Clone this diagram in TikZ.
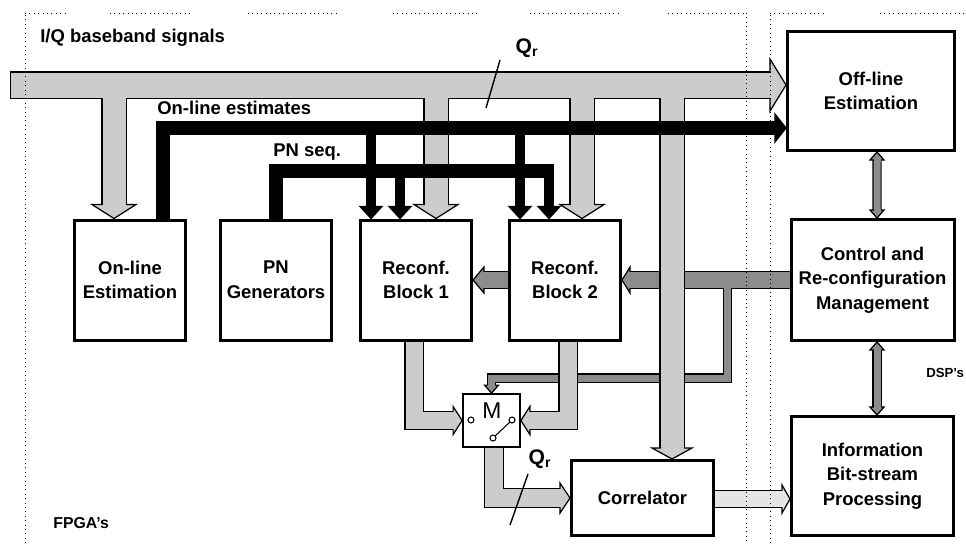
\documentclass[tikz,border=0pt]{standalone}
\usepackage{fontspec}
\setmainfont{Liberation Sans}
\usetikzlibrary{calc}
\definecolor{BusGray}{gray}{0.80}
\definecolor{OutGray}{gray}{0.90}
\definecolor{CtrlGray}{gray}{0.55}
\tikzset{
  blockbox/.style={draw, line width=1.7pt, fill=white, align=center,
    font=\bfseries\fontsize{10.5}{14}\selectfont, inner sep=0pt},
  fpgablock/.style={blockbox, minimum width=22.2mm, minimum height=24mm},
  lbl/.style={font=\bfseries\fontsize{10.5}{12}\selectfont, inner sep=0pt, anchor=west},
  blackbus/.style={draw=black, line width=#1*0.2mm, line join=miter},
  regline/.style={dotted, line width=0.5pt},
  pics/bandhead/.style n args={4}{code={
    \filldraw[fill=#4, draw=black, line width=0.7pt, line join=miter]
      (0,0) -- (-#1,#2) -- (-#1,-#2) -- cycle;
    \fill[#4] ({-#1-1.5},{-#3}) rectangle ({-#1+1.3},{#3});
  }},
}
\begin{document}
\begin{tikzpicture}[x=0.2mm,y=-0.2mm,line join=miter]
  \fill[white] (0,0) rectangle (966,543);
  \useasboundingbox (0,0) rectangle (966,543);

  % blocks
  \node[fpgablock] (onl) at (130,280) {On-line\\Estimation};
  \node[fpgablock] (pngen) at (276,280) {PN\\Generators};
  \node[fpgablock] (blk1) at (416,280) {Reconf.\\Block 1};
  \node[fpgablock] (blk2) at (565,280) {Reconf.\\Block 2};
  \node[blockbox, minimum width=33.4mm, minimum height=23.8mm] (offl) at (871,91) {Off-line\\Estimation};
  \node[blockbox, minimum width=32.6mm, minimum height=24.2mm] (ctrl) at (872.5,280) {Control and\\Re-configuration\\Management};
  \node[blockbox, minimum width=32.4mm, minimum height=23.8mm] (info) at (872.5,476) {Information\\Bit-stream\\Processing};
  \node[blockbox, minimum width=28.4mm, minimum height=15mm] (corr) at (642.5,498) {Correlator};
  \node[draw, line width=1pt, fill=white, minimum width=11.4mm, minimum height=10.6mm] (mux) at (491.5,420.5) {};
  \node[font=\fontsize{13}{13}\selectfont, inner sep=0pt] (mlet) at (492,411) {M};
  \draw[line width=0.6pt] (493,438) -- (512,420);
  \foreach \p in {(471,420),(512,420),(493,438)}{
    \draw[line width=0.6pt, fill=white] \p circle[radius=3];
  }

  % control bus (outline, then fill)
  \foreach \w/\c in {1.4pt/black,0pt/CtrlGray}{
    \draw[draw=\c, line width=16*0.2mm+\w] (ctrl.west) -- ($(blk2.east)+(8,0)$);
    \draw[draw=\c, line width=16*0.2mm+\w] (blk2.west) -- ($(blk1.east)+(11,0)$);
    \draw[draw=\c, line width=7*0.2mm+\w] ($(ctrl.west)+(-62,0)$) |- ($(mux.north)+(0,-15)$) -- ($(mux.north)+(0,-8)$);
    \draw[draw=\c, line width=7*0.2mm+\w] ($(offl.south)+(6,8)$) -- ($(ctrl.north)+(4.5,-8)$);
    \draw[draw=\c, line width=7*0.2mm+\w] ($(ctrl.south)+(4.5,8)$) -- ($(info.north)+(4.5,-8)$);
  }
  \pic[rotate=180] at (blk2.east) {bandhead={8}{13}{8}{CtrlGray}};
  \pic[rotate=180] at (blk1.east) {bandhead={11}{13}{8}{CtrlGray}};
  \pic[rotate=-90] at (mux.north) {bandhead={8}{7}{3.5}{CtrlGray}};
  \pic[rotate=90] at ($(offl.south)+(6,0)$) {bandhead={8}{7}{3.5}{CtrlGray}};
  \pic[rotate=-90] at ($(ctrl.north)+(4.5,0)$) {bandhead={8}{7}{3.5}{CtrlGray}};
  \pic[rotate=90] at ($(ctrl.south)+(4.5,0)$) {bandhead={8}{7}{3.5}{CtrlGray}};
  \pic[rotate=-90] at ($(info.north)+(4.5,0)$) {bandhead={8}{7}{3.5}{CtrlGray}};

  % I/Q signals and data path (outline, then fill)
  \coordinate (iqin) at (10,85);
  \foreach \w/\c/\d/\s in {1.4pt/black/black/0pt,0pt/BusGray/OutGray/0.7pt}{
    \draw[draw=\c, line width=25*0.2mm+\w, shorten <=\s] (iqin) -- ($(offl.west)+(-16,-6)$);
    \draw[draw=\c, line width=23*0.2mm+\w] ($(onl.north)+(-16,-133)$) -- ($(onl.north)+(-16,-14)$);
    \draw[draw=\c, line width=23*0.2mm+\w] ($(blk1.north)+(20,-133)$) -- ($(blk1.north)+(20,-14)$);
    \draw[draw=\c, line width=23*0.2mm+\w] ($(blk2.north)+(17,-133)$) -- ($(blk2.north)+(17,-14)$);
    \draw[draw=\c, line width=23*0.2mm+\w] ($(corr.north)+(29.5,-374)$) -- ($(corr.north)+(29.5,-11)$);
    \draw[draw=\c, line width=17*0.2mm+\w] ($(blk1.south)+(-2,0)$) |- ($(mux.west)+(-9,0)$);
    \draw[draw=\c, line width=17*0.2mm+\w] ($(blk2.south)+(3,0)$) |- ($(mux.east)+(9,0)$);
    \draw[draw=\c, line width=18*0.2mm+\w] ($(mux.south)+(2.5,0)$) |- ($(corr.west)+(-10,0)$);
    \draw[draw=\d, line width=16*0.2mm+\w] ($(corr.east)+(0,1)$) -- ($(info.west)+(-8,23)$);
  }
  \pic at ($(offl.west)+(0,-6)$) {bandhead={16}{26}{12.5}{BusGray}};
  \pic[rotate=-90] at ($(onl.north)+(-16,0)$) {bandhead={14}{22}{11.5}{BusGray}};
  \pic[rotate=-90] at ($(blk1.north)+(20,0)$) {bandhead={14}{22}{11.5}{BusGray}};
  \pic[rotate=-90] at ($(blk2.north)+(17,0)$) {bandhead={14}{22}{11.5}{BusGray}};
  \pic[rotate=-90] at ($(corr.north)+(29.5,0)$) {bandhead={11}{20}{11.5}{BusGray}};
  \pic at (mux.west) {bandhead={9}{14}{8.5}{BusGray}};
  \pic[rotate=180] at (mux.east) {bandhead={9}{14}{8.5}{BusGray}};
  \pic at (corr.west) {bandhead={10}{15}{9}{BusGray}};
  \pic at ($(info.west)+(0,23)$) {bandhead={8}{14}{8}{OutGray}};

  % on-line estimates and PN sequences
  \draw[blackbus=14] ($(onl.north)+(33,0)$) |- ($(offl.west)+(-11,37)$);
  \draw[blackbus=14] (pngen.north) |- ($(blk2.north)+(-11,-48)$);
  \foreach \blk in {blk1,blk2}{
    \draw[blackbus=10] ($(\blk.north)+(-45,-90)$) -- ($(\blk.north)+(-45,-12)$);
    \draw[blackbus=10] ($(\blk.north)+(-16,-48)$) -- ($(\blk.north)+(-16,-12)$);
    \pic[rotate=-90] at ($(\blk.north)+(-45,0)$) {bandhead={12}{11}{5}{black}};
    \pic[rotate=-90] at ($(\blk.north)+(-16,0)$) {bandhead={12}{11}{5}{black}};
  }
  \pic at ($(offl.west)+(0,37)$) {bandhead={11}{14}{7}{black}};

  % bus widths
  \node[font=\bfseries\fontsize{12}{12}\selectfont, inner sep=0pt] (qr1) at (527,48) {Q\textsubscript{r}};
  \coordinate (s1a) at (500,60);
  \coordinate (s1b) at (486,108);
  \draw[line width=0.8pt] (s1a) -- (s1b);
  \node[font=\bfseries\fontsize{12}{12}\selectfont, inner sep=0pt] (qr2) at (540,459) {Q\textsubscript{r}};
  \coordinate (s2a) at (528,474);
  \coordinate (s2b) at (510,525);
  \draw[line width=0.8pt] (s2a) -- (s2b);

  % FPGA / DSP areas
  \draw[regline] (25,543) -- (25,13);
  \draw[regline] (746,13) -- (746,543);
  \draw[regline] (770,543) -- (770,13);
  \foreach \a/\b in {25/65,110/193,248/340,393/478,530/621,668/746,770/826,880/966}{
    \draw[regline] (\a,13) -- (\b,13);
  }

  % labels
  \node[lbl] (iqlbl) at (40,38) {I/Q baseband signals};
  \node[lbl] (oelbl) at (157,108) {On-line estimates};
  \node[lbl] (pnlbl) at (273,152) {PN seq.};
  \node[lbl, font=\bfseries\fontsize{7.5}{9}\selectfont] (dsplbl) at (926,373) {DSP's};
  \node[lbl, font=\bfseries\fontsize{9}{11}\selectfont] (fpgalbl) at (53,523) {FPGA's};
\end{tikzpicture}
\end{document}
